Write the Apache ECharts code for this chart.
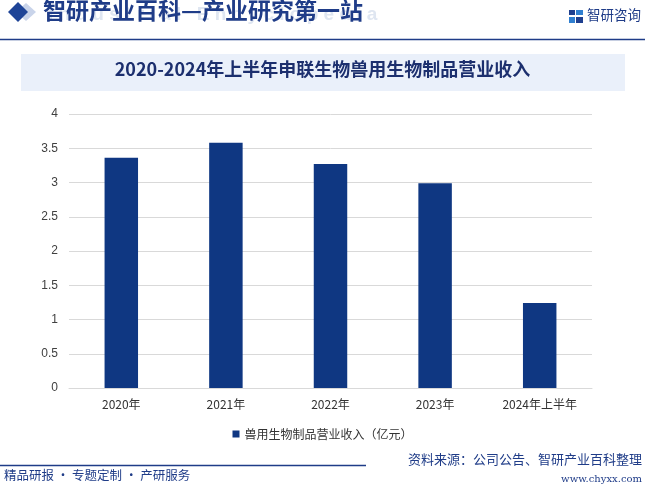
<!DOCTYPE html>
<html>
<head>
<meta charset="utf-8">
<script src="https://cdn.jsdelivr.net/npm/echarts@6/dist/echarts.min.js"></script>
<style>
html,body{margin:0;padding:0;background:#fff;}
#chart{width:645px;height:487px;}
</style>
</head>
<body>
<div id="chart"></div>
<script>
var categories = ['2020年', '2021年', '2022年', '2023年', '2024年上半年'];
var revenue = [3.36, 3.58, 3.27, 2.99, 1.24];
var seriesName = '兽用生物制品营业收入（亿元）';
var chartTitle = '2020-2024年上半年申联生物兽用生物制品营业收入';

var chart = echarts.init(document.getElementById('chart'));
var navy = '#1f3c88';
chart.setOption({
  backgroundColor: '#ffffff',
  animation: false,
  grid: {left: 69, right: 53, top: 114, bottom: 99},
  legend: {
    data: [seriesName],
    top: 423,
    left: 'center',
    icon: 'rect',
    itemWidth: 7,
    itemHeight: 7,
    itemGap: 4,
    textStyle: {color: '#333333', fontSize: 12, fontFamily: 'Noto Sans CJK SC'}
  },
  xAxis: {
    type: 'category',
    data: categories,
    axisLine: {lineStyle: {color: '#d9d9d9'}},
    axisTick: {show: false},
    axisLabel: {color: '#333333', fontSize: 12, margin: 10, fontFamily: 'Noto Sans CJK SC'}
  },
  yAxis: {
    type: 'value',
    min: 0, max: 4, interval: 0.5,
    axisLine: {show: false},
    axisTick: {show: false},
    axisLabel: {color: '#404040', fontSize: 12, margin: 11, fontFamily: 'Liberation Sans'},
    splitLine: {lineStyle: {color: '#d9d9d9'}}
  },
  series: [{
    name: seriesName,
    type: 'bar',
    data: revenue,
    barWidth: '32%',
    itemStyle: {color: '#0f3782'}
  }],
  graphic: [
    {type: 'text', left: 48, top: 5, z: 1,
     style: {text: 'I n d u s t r i a l   E n c y c l o p e d i a', fill: '#dfe6f1', font: 'bold 19px "Liberation Sans"'}},
    {type: 'polygon', z: 2, shape: {points: [[26,3],[36,12],[26,21],[16,12]]}, style: {fill: '#c9d4ea'}},
    {type: 'polygon', z: 3, shape: {points: [[18,2],[28,12],[18,22],[8,12]]}, style: {fill: '#1e4497'}},
    {type: 'text', left: 43, top: -1, z: 4,
     style: {text: '智研产业百科—产业研究第一站', fill: navy, font: 'bold 23px "Noto Sans CJK SC"'}},
    {type: 'line', z: 4, shape: {x1: 0, y1: 39.5, x2: 645, y2: 39.5}, style: {stroke: navy, lineWidth: 1.5}},
    {type: 'rect', z: 4, shape: {x: 569, y: 10, width: 6, height: 5}, style: {fill: '#1e3f8f'}},
    {type: 'rect', z: 4, shape: {x: 576, y: 10, width: 7, height: 5}, style: {fill: '#2f7fd0'}},
    {type: 'rect', z: 4, shape: {x: 569, y: 17, width: 6, height: 6}, style: {fill: '#2f7fd0'}},
    {type: 'rect', z: 4, shape: {x: 576, y: 17, width: 7, height: 6}, style: {fill: '#1e3f8f'}},
    {type: 'text', right: 4, top: 8, z: 4,
     style: {text: '智研咨询', fill: navy, font: '13.5px "Noto Sans CJK SC"'}},
    {type: 'rect', z: 0, shape: {x: 21, y: 54, width: 604, height: 37}, style: {fill: '#eaf0fa'}},
    {type: 'text', left: 'center', top: 60, z: 4,
     style: {text: chartTitle, fill: '#1c2f6e', font: 'bold 18px "Noto Sans CJK SC"'}},
    {type: 'line', z: 4, shape: {x1: 0, y1: 465.5, x2: 366, y2: 465.5}, style: {stroke: navy, lineWidth: 1.5}},
    {type: 'text', left: 4, top: 469, z: 4,
     style: {text: '精品研报 · 专题定制 · 产研服务', fill: navy, font: '12.5px "Noto Sans CJK SC"'}},
    {type: 'text', right: 3, top: 453, z: 4,
     style: {text: '资料来源：公司公告、智研产业百科整理', fill: navy, font: '13px "Noto Sans CJK SC"'}},
    {type: 'text', right: 3, top: 474, z: 4,
     style: {text: 'www.chyxx.com', fill: navy, font: '10px "DejaVu Serif"'}}
  ]
});
</script>
</body>
</html>
